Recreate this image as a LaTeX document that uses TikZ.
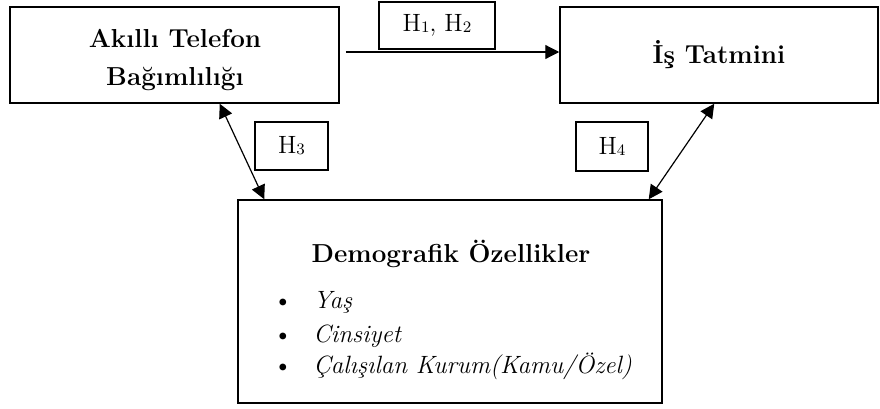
\documentclass[tikz,border=0pt]{standalone}
\usepackage{tikz}
\usetikzlibrary{positioning,arrows.meta}
\newcommand{\hsub}[1]{\raisebox{-0.6pt}{\fontsize{8}{8}\selectfont #1}}

\begin{document}
\begin{tikzpicture}[
    x=0.5pt, y=-0.5pt,
    font=\fontsize{12.5}{15}\selectfont,
    box/.style={draw, line width=0.75pt, inner sep=0pt, align=center,
      font=\fontsize{13}{19}\selectfont\bfseries},
    hbox/.style={draw, line width=0.75pt, inner sep=0pt},
    txt/.style={inner sep=0pt},
    link/.style={-{Triangle[length=7pt,width=7pt]}, line width=0.6pt},
    both/.style={{Triangle[length=7pt,width=7pt]}-{Triangle[length=7pt,width=7pt]}, line width=0.6pt},
  ]
  \useasboundingbox (0,0) rectangle (880,408);

  % the three variables
  \node[box, minimum width=164.5pt, minimum height=48pt] (akilli) at (174.5,55) {};
  \node[txt, anchor=base, font=\fontsize{13}{19}\selectfont\bfseries, align=center]
    (akilliyazi) at (175,85) {Akıllı Telefon\\Bağımlılığı};
  \node[box, minimum width=159pt, minimum height=48pt] (tatmin) at (719,55)
    {İş Tatmini};
  \node[box, minimum width=212pt, minimum height=101.5pt] (demo) at (450,301.5) {};
  \node[txt, anchor=base, font=\fontsize{13}{15}\selectfont\bfseries] (demobaslik)
    at (451,262) {Demografik Özellikler};
  \foreach \y/\t [count=\i] in {308/Yaş, 342/Cinsiyet, 373/{Çalışılan Kurum(Kamu/Özel)}} {
    \node[txt, anchor=base] (nokta\i) at (283,\y) {\textbullet};
    \node[txt, anchor=base west, font=\fontsize{12.5}{15}\selectfont\itshape] (madde\i)
      at (313,\y) {\t};
  }

  % hypothesis labels
  \node[hbox, minimum width=58pt, minimum height=23.5pt] (h12) at (437,25.5)
    {H\hsub{1}, H\hsub{2}};
  \node[hbox, minimum width=36.5pt, minimum height=24pt] (h3) at (291.5,146) {H\hsub{3}};
  \node[hbox, minimum width=36pt, minimum height=24.5pt] (h4) at (612,146.5) {H\hsub{4}};

  % relations
  \draw[link] ([xshift=3pt,yshift=1.5pt]akilli.east) -- ([yshift=1.5pt]tatmin.west);
  \draw[both] ([xshift=-60pt]akilli.south east) -- ([xshift=13.5pt]demo.north west);
  \draw[both] ([xshift=77.5pt]tatmin.south west) -- ([xshift=-7pt]demo.north east);
\end{tikzpicture}
\end{document}
